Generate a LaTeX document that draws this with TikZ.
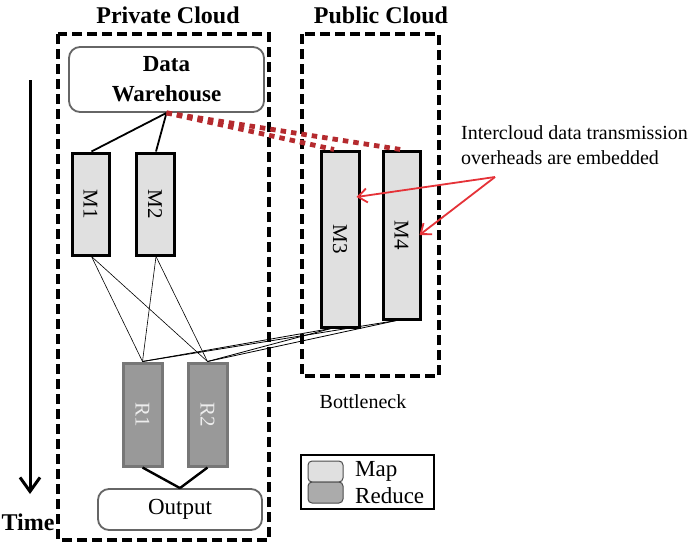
\documentclass[tikz,border=0pt]{standalone}
\usepackage{fontspec}
\setmainfont{Liberation Serif}
\usetikzlibrary{arrows.meta,calc}
\definecolor{mapfill}{HTML}{E0E0E0}
\definecolor{redfill}{HTML}{999999}
\definecolor{redborder}{HTML}{777777}
\definecolor{dotred}{HTML}{B52A2E}
\definecolor{arrred}{HTML}{E53238}
\tikzset{
  cloudbox/.style={draw=black,line width=3.4pt,dash pattern=on 10pt off 5pt},
  mapbox/.style={draw=black,fill=mapfill,line width=3pt,inner sep=0pt},
  redbox/.style={draw=redborder,fill=redfill,line width=3pt,inner sep=0pt},
  roundbox/.style={draw=black!60,rounded corners=11pt,line width=1.8pt,fill=white,inner sep=0pt},
  mlabel/.style={font=\fontsize{21}{24}\selectfont,rotate=-90},
  rlabel/.style={font=\fontsize{21}{24}\selectfont,rotate=-90,text=white!93!black},
  titletext/.style={font=\fontsize{24}{28}\selectfont\bfseries},
  thinline/.style={line width=0.6pt},
  dotline/.style={draw=dotred,line width=4.8pt,dash pattern=on 5.5pt off 5pt},
  redarrow/.style={draw=arrred,line width=1.8pt,-{Straight Barb[length=9pt,width=14pt,line width=1.8pt]}},
}
\begin{document}
\begin{tikzpicture}[x=1pt,y=-1pt]
\useasboundingbox (0,0) rectangle (699,549);
\fill[white] (0,0) rectangle (699,549);

% cloud boxes
\draw[cloudbox] (58,34) rectangle (269,540);
\draw[cloudbox] (302,34) rectangle (439,376);
\node[titletext] (privt) at (168,15) {Private Cloud};
\node[titletext] (pubt) at (381,15) {Public Cloud};

% data warehouse
\node[roundbox,minimum width=195pt,minimum height=65pt,align=center,
      font=\fontsize{23}{30}\selectfont\bfseries] (dw) at (166.5,79.5) {Data\\Warehouse};

% map boxes
\node[mapbox,minimum width=37pt,minimum height=102pt] (m1) at (90.5,204) {};
\node[mapbox,minimum width=38pt,minimum height=102pt] (m2) at (155,204) {};
\node[mapbox,minimum width=38pt,minimum height=176pt] (m3) at (340,239) {};
\node[mapbox,minimum width=37pt,minimum height=168pt] (m4) at (401.5,235) {};
\node[mlabel] (m1l) at (m1.center) {M1};
\node[mlabel] (m2l) at (m2.center) {M2};
\node[mlabel] (m3l) at (m3.center) {M3};
\node[mlabel] (m4l) at (m4.center) {M4};

% reduce boxes
\node[redbox,minimum width=39pt,minimum height=103pt] (r1) at (142.5,414.5) {};
\node[redbox,minimum width=39pt,minimum height=103pt] (r2) at (207.5,414.5) {};
\node[rlabel] (r1l) at (r1.center) {R1};
\node[rlabel] (r2l) at (r2.center) {R2};

% output
\node[roundbox,minimum width=164pt,minimum height=41pt,
      font=\fontsize{23}{28}\selectfont] (out) at (180,509.5) {Output};

% connectors DW -> M1, M2
\draw[line width=1.8pt] (dw.south) -- ([xshift=1pt]m1.north);
\draw[line width=1.8pt] (dw.south) -- ([xshift=1pt]m2.north);

% red dotted to public maps
\draw[dotline] (dw.south) -- ([xshift=-6pt]m3.north);
\draw[dotline] (dw.south) -- ([xshift=-1pt]m4.north);

% shuffle lines
\draw[thinline] ([xshift=1pt]m1.south) -- (r1.north);
\draw[thinline] ([xshift=1pt]m1.south) -- (r2.north);
\draw[thinline] ([xshift=1pt]m2.south) -- (r1.north);
\draw[thinline] ([xshift=1pt]m2.south) -- (r2.north);
\draw[line width=0.8pt] ([xshift=-9pt]m3.south) -- (r1.north);
\draw[line width=0.8pt] ([xshift=-9pt]m3.south) -- (r2.north);
\draw[line width=0.8pt] ([xshift=-5pt]m4.south) -- (r1.north);
\draw[line width=0.8pt] ([xshift=-5pt]m4.south) -- (r2.north);

% reduce -> output
\draw[line width=2.4pt] (r1.south) -- (out.north);
\draw[line width=2.4pt] (r2.south) -- (out.north);

% annotation
\node[anchor=west,align=left,inner sep=0pt,font=\fontsize{20}{25}\selectfont] (note) at (461,145.5)
  {Intercloud data transmission\\overheads are embedded};
\coordinate (src) at (495,177);
\draw[redarrow] (src) -- ([xshift=-4pt,yshift=42pt]m3.east);
\draw[redarrow] (src) -- ([xshift=-2pt]m4.east);

\node[font=\fontsize{20}{24}\selectfont] (bneck) at (363,402) {Bottleneck};

% time arrow
\coordinate (tstart) at (30,80);
\coordinate (tend) at (30,494);
\draw[line width=3pt,-{Straight Barb[length=14pt,width=20pt,line width=3pt]}] (tstart) -- (tend);
\node[font=\fontsize{24}{28}\selectfont\bfseries] (time) at (28,522) {Time};

% legend
\draw[line width=1.2pt] (301,455) rectangle (434,509);
\draw[draw=black!70,fill=mapfill,rounded corners=4pt,line width=1pt] (308,461) rectangle (343,482);
\draw[draw=black!70,fill=black!33,rounded corners=4pt,line width=1pt] (308,482) rectangle (343,503);
\node[anchor=west,inner sep=0pt,font=\fontsize{23}{26}\selectfont] (lmap) at (355,471) {Map};
\node[anchor=west,inner sep=0pt,font=\fontsize{23}{26}\selectfont] (lred) at (355,496) {Reduce};
\end{tikzpicture}
\end{document}
